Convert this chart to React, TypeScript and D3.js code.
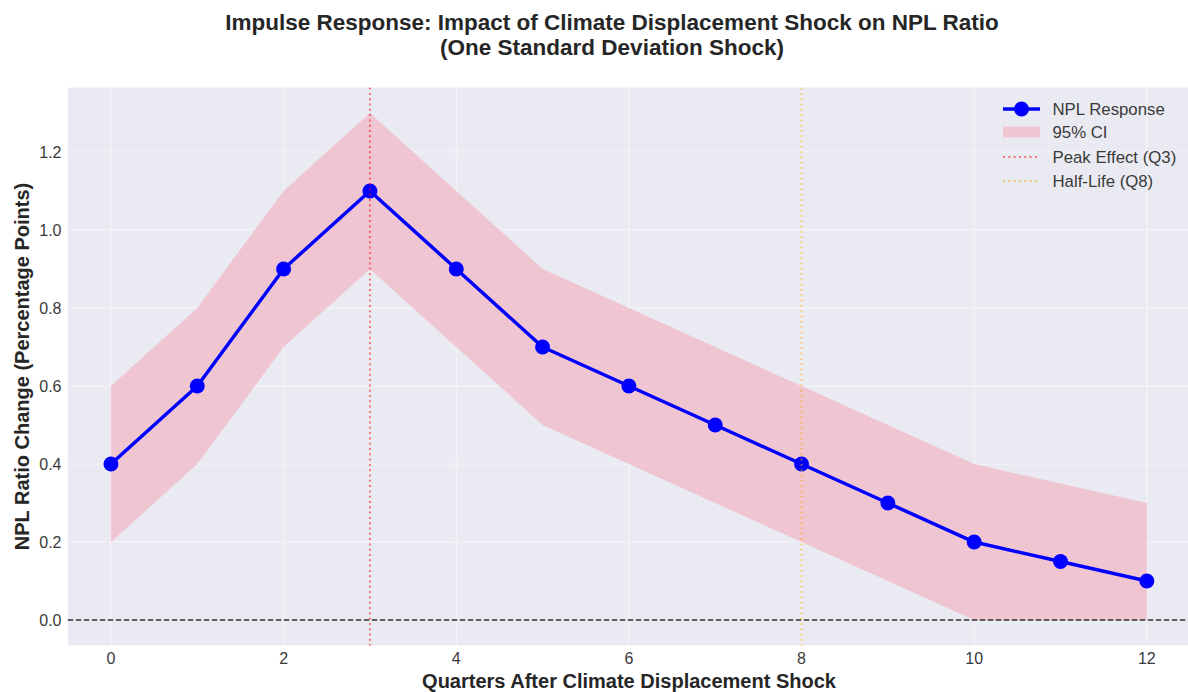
import React, { useEffect, useRef } from "react";
import * as d3 from "d3";

const quarters = [0, 1, 2, 3, 4, 5, 6, 7, 8, 9, 10, 11, 12];
const response = [0.4, 0.6, 0.9, 1.1, 0.9, 0.7, 0.6, 0.5, 0.4, 0.3, 0.2, 0.15, 0.1];
const ciLower = [0.2, 0.4, 0.7, 0.9, 0.7, 0.5, 0.4, 0.3, 0.2, 0.1, 0.0, 0.0, 0.0];
const ciUpper = [0.6, 0.8, 1.1, 1.3, 1.1, 0.9, 0.8, 0.7, 0.6, 0.5, 0.4, 0.35, 0.3];
const xTicks = [0, 2, 4, 6, 8, 10, 12];
const yTicks = [0.0, 0.2, 0.4, 0.6, 0.8, 1.0, 1.2];
const peakQuarter = 3;
const halfLifeQuarter = 8;
const legendLabels = ["NPL Response", "95% CI", "Peak Effect (Q3)", "Half-Life (Q8)"];

const W = 1188, H = 692;
const font = "'Liberation Sans', Arial, sans-serif";

export default function App() {
  const ref = useRef<SVGSVGElement>(null);

  useEffect(() => {
    const svg = d3.select(ref.current);
    svg.selectAll("*").remove();

    const x = d3.scaleLinear().domain([-0.5, 12.5]).range([67.8, 1190]);
    const y = d3.scaleLinear().domain([-0.065, 1.365]).range([645.4, 87.6]);
    const [x0, x1] = x.range();
    const [y0, y1] = y.range();

    svg.append("rect")
      .attr("x", x0).attr("y", y1)
      .attr("width", x1 - x0).attr("height", y0 - y1)
      .attr("fill", "#EAEAF2");

    // grid
    const g = svg.append("g");
    xTicks.forEach(t => {
      g.append("line").attr("x1", x(t)).attr("x2", x(t)).attr("y1", y1).attr("y2", y0)
        .attr("stroke", "#fff").attr("stroke-opacity", 0.55).attr("stroke-width", 1);
    });
    yTicks.forEach(t => {
      g.append("line").attr("x1", x0).attr("x2", x1).attr("y1", y(t)).attr("y2", y(t))
        .attr("stroke", "#fff").attr("stroke-opacity", 0.55).attr("stroke-width", 1);
    });

    // CI band
    const area = d3.area<number>()
      .x((d, i) => x(quarters[i]))
      .y0((d, i) => y(ciLower[i]))
      .y1((d, i) => y(ciUpper[i]));
    svg.append("path").datum(quarters).attr("d", area)
      .attr("fill", "rgb(241,171,189)").attr("fill-opacity", 0.6);

    // zero line
    svg.append("line").attr("x1", x0).attr("x2", x1).attr("y1", y(0)).attr("y2", y(0))
      .attr("stroke", "#000").attr("stroke-opacity", 0.8).attr("stroke-width", 1.5)
      .attr("stroke-dasharray", "5.5,2.5");

    // response line
    const line = d3.line<number>().x((d, i) => x(quarters[i])).y(d => y(d));
    svg.append("path").datum(response).attr("d", line)
      .attr("fill", "none").attr("stroke", "#0000FF").attr("stroke-width", 3.5)
      .attr("stroke-linejoin", "round");
    svg.selectAll("circle.pt").data(response).enter().append("circle")
      .attr("cx", (d, i) => x(quarters[i])).attr("cy", d => y(d))
      .attr("r", 7.5).attr("fill", "#0000FF");

    // vertical reference lines
    svg.append("line").attr("x1", x(peakQuarter)).attr("x2", x(peakQuarter)).attr("y1", y1).attr("y2", y0)
      .attr("stroke", "#FF0000").attr("stroke-opacity", 0.5).attr("stroke-width", 2)
      .attr("stroke-dasharray", "2,3.3");
    svg.append("line").attr("x1", x(halfLifeQuarter)).attr("x2", x(halfLifeQuarter)).attr("y1", y1).attr("y2", y0)
      .attr("stroke", "#FFA500").attr("stroke-opacity", 0.5).attr("stroke-width", 2)
      .attr("stroke-dasharray", "2,3.3");

    // ticks
    xTicks.forEach(t => {
      svg.append("text").attr("x", x(t)).attr("y", 663.5).attr("text-anchor", "middle")
        .attr("font-family", font).attr("font-size", 16).attr("fill", "#3a3a3a").text(String(t));
    });
    yTicks.forEach(t => {
      svg.append("text").attr("x", 61.5).attr("y", y(t) + 6).attr("text-anchor", "end")
        .attr("font-family", font).attr("font-size", 16).attr("fill", "#3a3a3a").text(t.toFixed(1));
    });

    // axis labels
    svg.append("text").attr("x", 629).attr("y", 688).attr("text-anchor", "middle")
      .attr("font-family", font).attr("font-size", 20).attr("font-weight", "bold").attr("fill", "#262626")
      .text("Quarters After Climate Displacement Shock");
    svg.append("text").attr("transform", `translate(29,${(y0 + y1) / 2}) rotate(-90)`)
      .attr("text-anchor", "middle")
      .attr("font-family", font).attr("font-size", 20).attr("font-weight", "bold").attr("fill", "#262626")
      .text("NPL Ratio Change (Percentage Points)");

    // title
    svg.append("text").attr("x", 612).attr("y", 30).attr("text-anchor", "middle")
      .attr("font-family", font).attr("font-size", 22.5).attr("font-weight", "bold").attr("fill", "#262626")
      .text("Impulse Response: Impact of Climate Displacement Shock on NPL Ratio");
    svg.append("text").attr("x", 612).attr("y", 55).attr("text-anchor", "middle")
      .attr("font-family", font).attr("font-size", 22.5).attr("font-weight", "bold").attr("fill", "#262626")
      .text("(One Standard Deviation Shock)");

    // legend
    const lg = svg.append("g");
    const rowY = [109, 132, 157, 181];
    const lx0 = 1003, lx1 = 1040;
    lg.append("line").attr("x1", lx0).attr("x2", lx1).attr("y1", rowY[0]).attr("y2", rowY[0])
      .attr("stroke", "#0000FF").attr("stroke-width", 3.5);
    lg.append("circle").attr("cx", (lx0 + lx1) / 2).attr("cy", rowY[0]).attr("r", 7.5).attr("fill", "#0000FF");
    lg.append("rect").attr("x", lx0).attr("y", rowY[1] - 5.5).attr("width", lx1 - lx0).attr("height", 11)
      .attr("fill", "rgb(241,171,189)").attr("fill-opacity", 0.6);
    lg.append("line").attr("x1", lx0).attr("x2", lx1).attr("y1", rowY[2]).attr("y2", rowY[2])
      .attr("stroke", "#FF0000").attr("stroke-opacity", 0.5).attr("stroke-width", 2).attr("stroke-dasharray", "2,3.3");
    lg.append("line").attr("x1", lx0).attr("x2", lx1).attr("y1", rowY[3]).attr("y2", rowY[3])
      .attr("stroke", "#FFA500").attr("stroke-opacity", 0.5).attr("stroke-width", 2).attr("stroke-dasharray", "2,3.3");
    legendLabels.forEach((l, i) => {
      lg.append("text").attr("x", 1052.5).attr("y", rowY[i] + 6)
        .attr("font-family", font).attr("font-size", 16.8).attr("fill", "#3a3a3a").text(l);
    });
  }, []);

  return (
    <svg ref={ref} width={W} height={H}
      style={{ position: "absolute", left: 0, top: 0, background: "#fff" }} />
  );
}
